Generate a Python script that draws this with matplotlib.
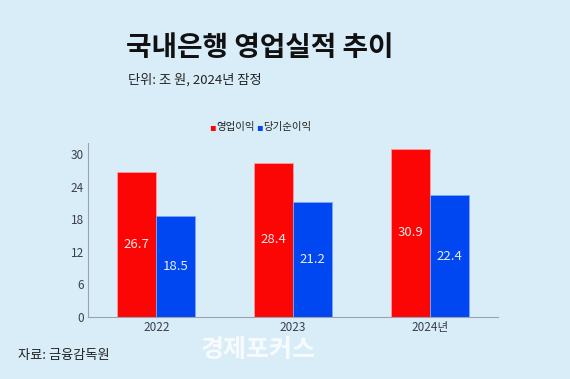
import matplotlib.pyplot as plt
import numpy as np

plt.rcParams['font.family'] = ['Noto Sans CJK KR', 'DejaVu Sans']

years = ['2022', '2023', '2024년']
operating = [26.7, 28.4, 30.9]
net_income = [18.5, 21.2, 22.4]
yticks = [0, 6, 12, 18, 24, 30]

bg = '#d9edf9'
red = '#fc0505'
blue = '#0047f2'

fig = plt.figure(figsize=(5.7, 3.79), dpi=100, facecolor=bg)
ax = fig.add_axes([88 / 570, 1 - 317 / 379, 410 / 570, 174 / 379])
ax.set_facecolor(bg)

x = np.arange(len(years))
w = 0.285
b1 = ax.bar(x - w / 2, operating, w, color=red, edgecolor='#ff9aa0', linewidth=0.6)
b2 = ax.bar(x + w / 2, net_income, w, color=blue, edgecolor='#7fa6f5', linewidth=0.6)

for xi, v in zip(x, operating):
    ax.text(xi - w / 2, v / 2, f'{v}', ha='center', va='center', color='#ffe6e6', fontsize=9.5)
for xi, v in zip(x, net_income):
    ax.text(xi + w / 2, v / 2, f'{v}', ha='center', va='center', color='#e6eeff', fontsize=9.5)

ax.set_xlim(-0.5, 2.5)
ax.set_ylim(0, 32)
ax.set_yticks(yticks)
ax.set_xticks(x)
ax.set_xticklabels(years)
ax.tick_params(length=0, labelsize=8.5, colors='#3a3f4a', pad=3)
for s in ['top', 'right']:
    ax.spines[s].set_visible(False)
for s in ['left', 'bottom']:
    ax.spines[s].set_color('#9aa3b0')
    ax.spines[s].set_linewidth(0.8)

fig.text(126 / 570, 1 - 48 / 379, '국내은행 영업실적 추이', fontsize=20, fontweight='black',
         color='#111111', ha='left', va='center')
fig.text(128 / 570, 1 - 80 / 379, '단위: 조 원, 2024년 잠정', fontsize=9.5,
         color='#222222', ha='left', va='center')

# legend
fig.text(212 / 570, 1 - 127 / 379, '▪', fontsize=7, color=red, ha='center', va='center',
         family=['DejaVu Sans'])
fig.text(216 / 570, 1 - 127 / 379, '영업이익', fontsize=7.5, color='#222222', ha='left', va='center')
fig.text(259 / 570, 1 - 127 / 379, '▪', fontsize=7, color=blue, ha='center', va='center',
         family=['DejaVu Sans'])
fig.text(263 / 570, 1 - 127 / 379, '당기순이익', fontsize=7.5, color='#222222', ha='left', va='center')

fig.text(18 / 570, 1 - 356 / 379, '자료: 금융감독원', fontsize=9.5, color='#222222',
         ha='left', va='center')
fig.text(201 / 570, 1 - 350 / 379, '경제포커스', fontsize=18, fontweight='bold', color='white',
         alpha=0.8, ha='left', va='center')

fig.savefig('out.png', dpi=100, facecolor=bg)
